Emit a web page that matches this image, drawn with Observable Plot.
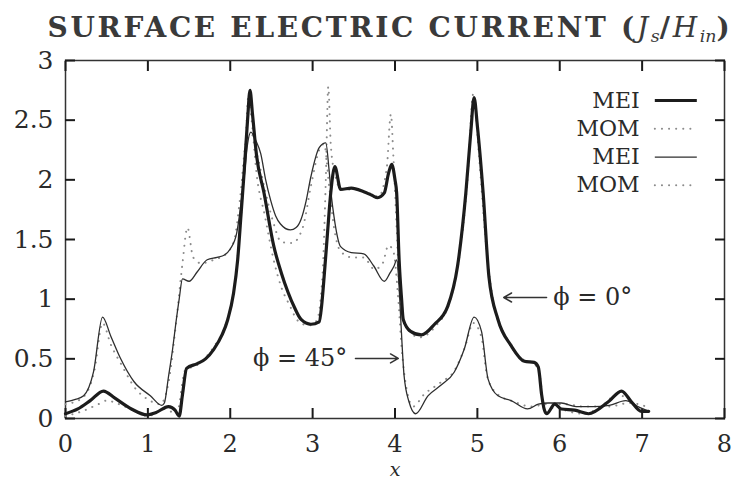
<!DOCTYPE html>
<html>
<head>
<meta charset="utf-8">
<script src="https://cdn.jsdelivr.net/npm/d3@7"></script>
<script src="https://cdn.jsdelivr.net/npm/@observablehq/plot@0.6"></script>
<style>
  html, body { margin: 0; padding: 0; background: #fff; }
  #title {
    height: 40px; box-sizing: border-box; padding-top: 13px; padding-left: 37px;
    text-align: center; white-space: nowrap; letter-spacing: 2.7px;
    font-family: "DejaVu Serif", serif; font-weight: bold; font-size: 28px; line-height: 29px; color: #3a3a3a;
  }
  #title sub { font-size: 0.62em; vertical-align: -0.28em; line-height: 0; letter-spacing: 0; }
  #title i { font-weight: normal; }
  #chart svg { display: block; }
</style>
</head>
<body>
<div id="title">SURFACE ELECTRIC CURRENT (<i>J<sub>s</sub></i>/<i>H<sub>in</sub></i>)</div>
<div id="chart"></div>
<script>
// ---- data ----
const xTicks = [0, 1, 2, 3, 4, 5, 6, 7, 8];
const yTicks = [0, 0.5, 1, 1.5, 2, 2.5, 3];
const legendLabels = ["MEI", "MOM", "MEI", "MOM"];
const annotationLabels = ["ϕ = 0°", "ϕ = 45°"];

// MEI, phi = 0 deg (thick solid)
const mei0X = [0.0,0.15,0.3,0.46,0.6,0.8,0.99,1.1,1.25,1.33,1.38,1.42,1.47,1.6,1.7,1.8,1.9,1.97,2.04,2.09,2.13,2.17,2.21,2.24,2.27,2.32,2.41,2.53,2.62,2.70,2.78,2.86,2.98,3.08,3.11,3.14,3.18,3.22,3.27,3.34,3.47,3.62,3.72,3.79,3.87,3.92,3.96,4.0,4.02,4.05,4.08,4.1,4.19,4.32,4.48,4.64,4.76,4.86,4.92,4.96,5.0,5.07,5.14,5.25,5.41,5.57,5.69,5.74,5.78,5.81,5.84,5.94,6.02,6.18,6.35,6.59,6.75,6.87,6.99,7.08];
const mei0Y = [0.04,0.08,0.15,0.23,0.17,0.08,0.03,0.05,0.1,0.07,0.02,0.2,0.42,0.46,0.5,0.58,0.7,0.83,1.05,1.33,1.7,2.08,2.5,2.75,2.55,2.2,1.89,1.44,1.22,1.06,0.93,0.83,0.79,0.81,0.95,1.19,1.55,1.89,2.11,1.92,1.93,1.90,1.87,1.85,1.89,2.05,2.13,2.0,1.89,1.33,1.0,0.83,0.73,0.70,0.79,0.94,1.28,1.89,2.4,2.69,2.45,1.89,1.19,0.83,0.61,0.48,0.47,0.43,0.2,0.08,0.04,0.12,0.08,0.07,0.04,0.14,0.23,0.14,0.06,0.06];

// MEI, phi = 45 deg (thin solid)
const mei45X = [0.0,0.12,0.22,0.34,0.45,0.55,0.67,0.83,1.03,1.17,1.2,1.25,1.3,1.34,1.38,1.42,1.5,1.6,1.72,1.84,1.93,2.0,2.08,2.13,2.17,2.21,2.25,2.31,2.37,2.43,2.49,2.55,2.61,2.73,2.8,2.86,2.92,2.98,3.08,3.16,3.2,3.23,3.26,3.34,3.47,3.62,3.74,3.87,3.94,3.99,4.02,4.05,4.07,4.11,4.17,4.25,4.4,4.56,4.72,4.84,4.96,5.05,5.13,5.25,5.41,5.61,5.74,5.86,6.02,6.2,6.4,6.6,6.8,6.95,7.08];
const mei45Y = [0.14,0.16,0.19,0.39,0.85,0.69,0.5,0.31,0.19,0.11,0.13,0.35,0.58,0.8,1.0,1.17,1.15,1.23,1.33,1.35,1.37,1.42,1.56,1.8,2.03,2.3,2.4,2.33,2.22,2.0,1.83,1.7,1.63,1.58,1.6,1.67,1.82,2.03,2.27,2.31,2.08,1.85,1.69,1.44,1.39,1.38,1.28,1.15,1.22,1.28,1.33,1.1,0.83,0.36,0.14,0.04,0.19,0.28,0.39,0.58,0.85,0.73,0.33,0.19,0.15,0.08,0.12,0.13,0.13,0.1,0.1,0.11,0.15,0.1,0.06];

// MOM, phi = 0 deg (dotted)
const mom0X = [0.0,0.2,0.4,0.5,0.65,0.85,1.0,1.2,1.35,1.45,1.6,1.8,1.95,2.05,2.12,2.18,2.22,2.26,2.32,2.42,2.52,2.62,2.72,2.82,2.95,3.05,3.12,3.16,3.19,3.22,3.27,3.35,3.5,3.65,3.8,3.9,3.95,3.98,4.02,4.06,4.15,4.3,4.5,4.65,4.78,4.88,4.95,5.02,5.1,5.2,5.35,5.5,5.7,5.76,5.82,5.95,6.1,6.3,6.5,6.7,6.85,7.0];
const mom0Y = [0.02,0.06,0.12,0.15,0.12,0.06,0.02,0.08,0.04,0.4,0.45,0.6,0.8,1.1,1.6,2.2,2.7,2.5,2.05,1.7,1.35,1.1,0.95,0.82,0.78,0.82,1.2,2.0,2.78,2.3,2.05,1.92,1.92,1.9,1.86,2.1,2.55,2.2,1.6,1.0,0.75,0.68,0.78,0.95,1.35,2.0,2.72,2.2,1.5,0.95,0.68,0.52,0.45,0.35,0.05,0.1,0.06,0.04,0.1,0.2,0.15,0.05];

// MOM, phi = 45 deg (dotted)
const mom45X = [0.0,0.2,0.35,0.45,0.55,0.68,0.85,1.0,1.15,1.25,1.35,1.42,1.48,1.55,1.65,1.8,1.95,2.05,2.12,2.2,2.26,2.33,2.42,2.52,2.62,2.75,2.88,2.98,3.08,3.14,3.2,3.26,3.34,3.48,3.62,3.75,3.85,3.92,3.98,4.04,4.08,4.14,4.22,4.35,4.55,4.72,4.85,4.95,5.05,5.12,5.25,5.45,5.65,5.85,6.05,6.3,6.6,6.85,7.05];
const mom45Y = [0.12,0.17,0.4,0.8,0.62,0.45,0.25,0.16,0.12,0.3,0.85,1.3,1.6,1.35,1.3,1.33,1.38,1.5,1.85,2.35,2.38,2.2,1.92,1.65,1.48,1.47,1.6,1.95,2.25,2.3,1.95,1.6,1.4,1.35,1.35,1.25,1.3,1.45,1.4,1.0,0.6,0.25,0.1,0.2,0.3,0.4,0.6,0.8,0.68,0.35,0.2,0.14,0.1,0.12,0.12,0.1,0.1,0.13,0.1];

// ---- build tables ----
const table = (xs, ys) => xs.map((x, i) => ({x, y: ys[i]}));
const mei0 = table(mei0X, mei0Y);
const mei45 = table(mei45X, mei45Y);
const mom0 = table(mom0X, mom0Y);
const mom45 = table(mom45X, mom45Y);

// legend layout (in data units of the frame)
const legX = 6.97, legX1 = 7.16, legX2 = 7.67;
const legY = (i) => 2.665 - i * 0.237;
const legend = legendLabels.map((label, i) => ({label, i}));

const dotted = {stroke: "#8c8c8c", strokeWidth: 2, strokeDasharray: "0.1 7", strokeLinecap: "round"};
const thick = {stroke: "#1c1c1c", strokeWidth: 3.2};
const thin = {stroke: "#2e2e2e", strokeWidth: 1.3};
const inTick = {tickSize: -10, tickFormat: () => "", label: null, stroke: "#1a1a1a", strokeWidth: 2};

const chart = Plot.plot({
  width: 743,
  height: 442,
  marginLeft: 65,
  marginRight: 19,
  marginTop: 20,
  marginBottom: 64,
  x: {domain: [0, 8]},
  y: {domain: [0, 3]},
  style: {fontFamily: "'DejaVu Serif', serif", fontSize: "24px", color: "#2a2a2a", background: "#fff"},
  marks: [
    Plot.frame({stroke: "#333", strokeWidth: 1.5}),
    Plot.axisX(xTicks, {anchor: "bottom", tickSize: 0, tickPadding: 16, label: null, tickFormat: d => String(d)}),
    Plot.axisY(yTicks, {anchor: "left", tickSize: 0, tickPadding: 12, label: null, tickFormat: d => String(d), fontSize: 25}),
    // inward ticks on all four sides
    Plot.axisX(xTicks, {anchor: "bottom", ...inTick}),
    Plot.axisX(xTicks, {anchor: "top", ...inTick}),
    Plot.axisY(yTicks, {anchor: "left", ...inTick}),
    Plot.axisY(yTicks, {anchor: "right", ...inTick}),
    Plot.text(["x"], {frameAnchor: "bottom", dy: 57, fontStyle: "italic", fontSize: 19}),

    Plot.line(mom45, {x: "x", y: "y", curve: "monotone-x", ...dotted}),
    Plot.line(mom0, {x: "x", y: "y", curve: "monotone-x", ...dotted}),
    Plot.line(mei45, {x: "x", y: "y", curve: "monotone-x", ...thin}),
    Plot.line(mei0, {x: "x", y: "y", curve: "monotone-x", ...thick}),

    // legend
    Plot.text(legend, {x: legX, y: d => legY(d.i), text: "label", textAnchor: "end", fontSize: 22}),
    Plot.ruleY(legend.filter(d => d.i === 0), {y: d => legY(d.i), x1: legX1, x2: legX2, ...thick}),
    Plot.ruleY(legend.filter(d => d.i === 2), {y: d => legY(d.i), x1: legX1, x2: legX2, ...thin}),
    Plot.ruleY(legend.filter(d => d.i % 2 === 1), {y: d => legY(d.i), x1: legX1, x2: legX2, ...dotted}),

    // annotations
    Plot.text([annotationLabels[0]], {x: 5.92, y: 1.014, textAnchor: "start", fontSize: 24}),
    Plot.arrow([0], {x1: 5.84, y1: 1.014, x2: 5.32, y2: 1.014, bend: 0, headLength: 9, strokeWidth: 1.5, stroke: "#333"}),
    Plot.text([annotationLabels[1]], {x: 3.42, y: 0.503, textAnchor: "end", fontSize: 24}),
    Plot.arrow([0], {x1: 3.52, y1: 0.503, x2: 4.04, y2: 0.503, bend: 0, headLength: 9, strokeWidth: 1.5, stroke: "#333"})
  ]
});
document.getElementById("chart").appendChild(chart);
</script>
</body>
</html>
